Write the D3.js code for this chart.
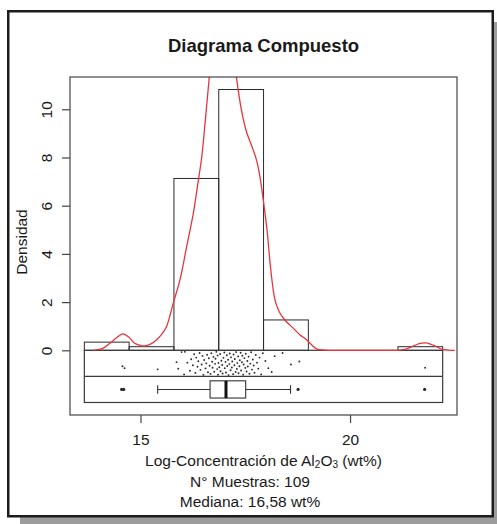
<!DOCTYPE html>
<html>
<head>
<meta charset="utf-8">
<script src="https://cdn.jsdelivr.net/npm/d3@7"></script>
<style>
  html, body { margin: 0; padding: 0; background: #ffffff; }
  svg { display: block; }
  text { font-family: "Liberation Sans", Arial, Helvetica, sans-serif; fill: #1a1a1a; }
</style>
</head>
<body>
<svg id="chart" width="497" height="524"></svg>
<script>
// Histogram breaks and bar heights (density)
const breaks = [13.66, 14.729, 15.798, 16.867, 17.936, 19.005, 20.074, 21.143, 22.21];
const density = [0.34, 0.15, 7.13, 10.82, 1.26, 0, 0, 0.15];

// Kernel density curve (x, density)
const kdeX = [13.88, 14.10, 14.27, 14.45, 14.58, 14.72, 14.86, 15.00, 15.10, 15.25, 15.38, 15.50, 15.62,
  15.78, 15.94, 16.10, 16.26, 16.38, 16.46, 16.55, 16.64, 16.75, 16.85, 16.95, 17.05, 17.15, 17.29,
  17.41, 17.53, 17.65, 17.77, 17.85, 17.93, 18.02, 18.11, 18.21, 18.31, 18.41, 18.52, 18.65, 18.80,
  18.97, 19.10, 19.21, 19.40, 19.80, 20.40, 21.00, 21.20, 21.35, 21.50, 21.65, 21.79, 21.92, 22.05,
  22.20, 22.35, 22.50];
const kdeY = [0.00, 0.08, 0.29, 0.55, 0.68, 0.55, 0.29, 0.20, 0.18, 0.27, 0.43, 0.65, 0.98,
  1.95, 2.91, 4.29, 5.68, 7.05, 8.00, 9.60, 11.31, 13.10, 14.20, 14.60, 14.40, 13.40, 11.31,
  9.95, 9.06, 8.50, 7.88, 7.20, 6.23, 4.98, 3.32, 2.08, 1.60, 1.33, 1.12, 0.91, 0.65,
  0.43, 0.20, 0.05, 0.01, 0.00, 0.00, 0.00, 0.01, 0.06, 0.17, 0.28, 0.31, 0.26, 0.16,
  0.04, 0.01, 0.00];

// Individual samples (strip chart) and their vertical jitter inside the band (0 = top, 1 = bottom)
const samples = [14.57, 14.62, 15.41,
  15.86, 15.90, 15.98, 16.04, 16.06, 16.12, 16.18, 16.21, 16.25, 16.28,
  16.31, 16.33, 16.36, 16.38, 16.41, 16.43, 16.46, 16.48, 16.50, 16.52,
  16.55, 16.57, 16.59, 16.61, 16.63, 16.65, 16.67, 16.69, 16.71, 16.72,
  16.74, 16.76, 16.78, 16.79, 16.81, 16.83, 16.84, 16.85, 16.86,
  16.88, 16.90, 16.91, 16.93, 16.95, 16.96, 16.98, 17.00, 17.01, 17.03,
  17.04, 17.06, 17.07, 17.09, 17.10, 17.12, 17.13, 17.15, 17.16, 17.18,
  17.19, 17.21, 17.22, 17.24, 17.25, 17.27, 17.28, 17.30, 17.31, 17.33,
  17.34, 17.36, 17.37, 17.39, 17.40, 17.42, 17.43, 17.45, 17.46, 17.48,
  17.50, 17.51, 17.53, 17.55, 17.56, 17.58, 17.60, 17.62, 17.64, 17.66,
  17.68, 17.70, 17.72, 17.75, 17.78, 17.81, 17.84, 17.88, 17.92,
  17.98, 18.05, 18.13, 18.20, 18.39, 18.59, 18.79,
  21.79];
const jitter = [0.62, 0.70, 0.75,
  0.45, 0.72, 0.03, 0.96, 0.02, 0.47, 0.81, 0.33, 0.58, 0.12,
  0.90, 0.26, 0.64, 0.41, 0.07, 0.77, 0.55, 0.19, 0.98, 0.36,
  0.71, 0.50, 0.14, 0.87, 0.29, 0.60, 0.94, 0.08, 0.43, 0.68,
  0.23, 0.85, 0.52, 0.31, 0.02, 0.74, 0.17, 0.97, 0.48,
  0.66, 0.11, 0.83, 0.39, 0.57, 0.92, 0.27, 0.05, 0.70, 0.44,
  0.88, 0.16, 0.61, 0.35, 0.99, 0.53, 0.09, 0.79, 0.25, 0.67,
  0.42, 0.95, 0.13, 0.58, 0.32, 0.86, 0.03, 0.73, 0.49, 0.21,
  0.91, 0.62, 0.37, 0.06, 0.80, 0.45, 0.18, 0.97, 0.55, 0.28,
  0.69, 0.10, 0.84, 0.40, 0.63, 0.22, 0.93, 0.51, 0.04, 0.76,
  0.34, 0.59, 0.89, 0.15, 0.47, 0.72, 0.26, 0.96, 0.08,
  0.40, 0.70, 0.86, 0.20, 0.07, 0.55, 0.42,
  0.68];

// Boxplot summary: lower whisker, Q1, median, Q3, upper whisker; and outliers
const boxStats = [15.41, 16.66, 17.04, 17.51, 18.58];
const outliers = [14.55, 14.60, 18.76, 21.78];

// Axis ticks and texts
const xTicks = [15, 20];
const yTicks = [0, 2, 4, 6, 8, 10];
const titleText = "Diagrama Compuesto";
const yLabel = "Densidad";
const infoLines = ["N° Muestras: 109", "Mediana: 16,58 wt%"];

const svg = d3.select("#chart");

// Frame with drop shadow
svg.append("rect").attr("x", 20).attr("y", 22).attr("width", 477).attr("height", 502).attr("fill", "#9c9c9c");
svg.append("rect").attr("x", 8.25).attr("y", 11.25).attr("width", 484.5).attr("height", 505)
  .attr("fill", "#ffffff").attr("stroke", "#1c1c1c").attr("stroke-width", 2.5);

// Plot region
const plot = { left: 70, right: 457, top: 77, bottom: 415 };
const xMin = breaks[0], xMax = breaks[breaks.length - 1];
const yMax = d3.max(density);
const band = yMax / 10;           // height of each lower panel band
const yMin = -2 * band;
const xPad = 0.04 * (xMax - xMin), yPad = 0.04 * (yMax - yMin);

const x = d3.scaleLinear().domain([xMin - xPad, xMax + xPad]).range([plot.left, plot.right]);
const y = d3.scaleLinear().domain([yMin - yPad, yMax + yPad]).range([plot.bottom, plot.top]);

svg.append("defs").append("clipPath").attr("id", "plotClip")
  .append("rect").attr("x", plot.left).attr("y", plot.top)
  .attr("width", plot.right - plot.left).attr("height", plot.bottom - plot.top);

// Histogram bars
const bins = density.map((d, i) => ({ x0: breaks[i], x1: breaks[i + 1], d }));
svg.append("g").selectAll("rect").data(bins).join("rect")
  .attr("x", b => x(b.x0)).attr("width", b => x(b.x1) - x(b.x0))
  .attr("y", b => y(b.d)).attr("height", b => y(0) - y(b.d))
  .attr("fill", "none").attr("stroke", "#2a2a2a").attr("stroke-width", 1);

// Lower panels: strip chart band and boxplot band
const panel = svg.append("g");
panel.append("rect").attr("x", x(xMin)).attr("y", y(0))
  .attr("width", x(xMax) - x(xMin)).attr("height", y(yMin) - y(0))
  .attr("fill", "none").attr("stroke", "#3a3a3a").attr("stroke-width", 1.2);
panel.append("line").attr("x1", x(xMin)).attr("x2", x(xMax))
  .attr("y1", y(-band)).attr("y2", y(-band))
  .attr("stroke", "#3a3a3a").attr("stroke-width", 1.2);

// Strip chart points
panel.append("g").selectAll("circle").data(samples).join("circle")
  .attr("cx", d => x(d))
  .attr("cy", (d, i) => y(-band * (0.04 + 0.92 * jitter[i])))
  .attr("r", 0.95).attr("fill", "#2b2b2b");

// Boxplot
const bc = y(-1.5 * band), bh = y(-1.5 * band - 0.33 * band) - bc;
const [wLo, q1, med, q3, wHi] = boxStats;
const bx = panel.append("g").attr("stroke", "#333333").attr("stroke-width", 1.1);
bx.append("line").attr("x1", x(wLo)).attr("x2", x(q1)).attr("y1", bc).attr("y2", bc);
bx.append("line").attr("x1", x(q3)).attr("x2", x(wHi)).attr("y1", bc).attr("y2", bc);
bx.append("line").attr("x1", x(wLo)).attr("x2", x(wLo)).attr("y1", bc - bh / 2).attr("y2", bc + bh / 2);
bx.append("line").attr("x1", x(wHi)).attr("x2", x(wHi)).attr("y1", bc - bh / 2).attr("y2", bc + bh / 2);
bx.append("rect").attr("x", x(q1)).attr("y", bc - bh).attr("width", x(q3) - x(q1)).attr("height", 2 * bh)
  .attr("fill", "none");
bx.append("line").attr("x1", x(med)).attr("x2", x(med)).attr("y1", bc - bh).attr("y2", bc + bh)
  .attr("stroke", "#111111").attr("stroke-width", 3);
panel.append("g").selectAll("circle").data(outliers).join("circle")
  .attr("cx", d => x(d)).attr("cy", bc).attr("r", 1.6).attr("fill", "#2b2b2b");

// Density curve
const kde = kdeX.map((v, i) => [v, kdeY[i]]);
svg.append("path").datum(kde)
  .attr("clip-path", "url(#plotClip)")
  .attr("d", d3.line().x(d => x(d[0])).y(d => y(d[1])).curve(d3.curveCatmullRom.alpha(0.5)))
  .attr("fill", "none").attr("stroke", "#e8343c").attr("stroke-width", 1.3);

// Plot box
svg.append("rect").attr("x", plot.left).attr("y", plot.top)
  .attr("width", plot.right - plot.left).attr("height", plot.bottom - plot.top)
  .attr("fill", "none").attr("stroke", "#444444").attr("stroke-width", 1.2);

// Axes
const gx = svg.append("g").attr("transform", `translate(0,${plot.bottom})`)
  .call(d3.axisBottom(x).tickValues(xTicks).tickSize(8).tickPadding(0).tickFormat(d3.format("d")));
gx.select(".domain").remove();
gx.selectAll("line").attr("stroke", "#444444").attr("stroke-width", 1.2);
gx.selectAll("text").attr("y", 29.5).attr("dy", null)
  .style("font-size", "15.5px").style("fill", "#1a1a1a");

const gy = svg.append("g").attr("transform", `translate(${plot.left},0)`)
  .call(d3.axisLeft(y).tickValues(yTicks).tickSize(8).tickFormat(d3.format("d")));
gy.select(".domain").remove();
gy.selectAll("line").attr("stroke", "#444444").attr("stroke-width", 1.2);
gy.selectAll("text")
  .attr("x", null).attr("dy", null)
  .attr("transform", "translate(-18.5,0) rotate(-90)")
  .attr("text-anchor", "middle")
  .style("font-size", "15.5px").style("fill", "#1a1a1a");

// Title
svg.append("text").attr("x", (plot.left + plot.right) / 2).attr("y", 51.5)
  .attr("text-anchor", "middle").style("font-size", "18.5px").style("font-weight", "bold")
  .text(titleText);

// Y label
svg.append("text").attr("transform", `translate(27,${(plot.top + plot.bottom) / 2 - 4}) rotate(-90)`)
  .attr("text-anchor", "middle").style("font-size", "15.5px").text(yLabel);

// X label with subscripts
const xl = svg.append("text").attr("x", (plot.left + plot.right) / 2).attr("y", 465.5)
  .attr("text-anchor", "middle").style("font-size", "15.5px");
xl.append("tspan").text("Log-Concentración de Al");
xl.append("tspan").attr("dy", 2).style("font-size", "10px").text("2");
xl.append("tspan").attr("dy", -2).text("O");
xl.append("tspan").attr("dy", 2).style("font-size", "10px").text("3");
xl.append("tspan").attr("dy", -2).text(" (wt%)");

// Summary lines
svg.append("g").selectAll("text").data(infoLines).join("text")
  .attr("x", 250).attr("y", (d, i) => 486.5 + i * 20)
  .attr("text-anchor", "middle").style("font-size", "15.5px")
  .text(d => d);
</script>
</body>
</html>
